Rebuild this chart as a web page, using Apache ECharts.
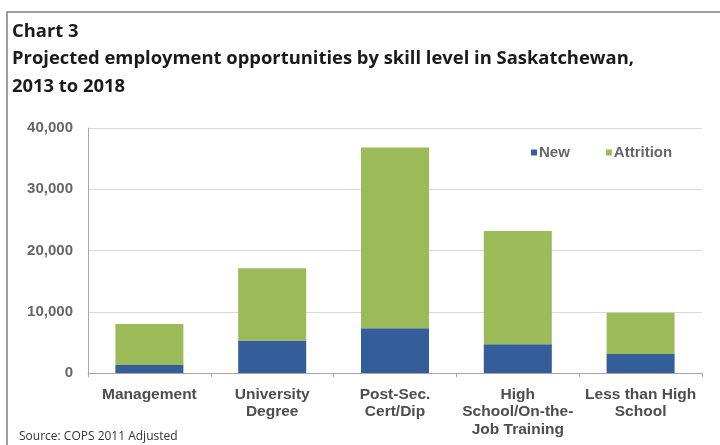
<!DOCTYPE html>
<html>
<head>
<meta charset="utf-8">
<script src="https://cdn.jsdelivr.net/npm/echarts@6/dist/echarts.min.js"></script>
<style>
html,body{margin:0;padding:0;background:#fff;}
#c{width:720px;height:445px;}
</style>
</head>
<body>
<div id="c"></div>
<script>
var categories = ["Management", "University\nDegree", "Post-Sec.\nCert/Dip", "High\nSchool/On-the-\nJob Training", "Less than High\nSchool"];
var newValues = [1300, 5300, 7300, 4700, 3100];
var attritionValues = [6700, 11800, 29500, 18500, 6750];
var yTicks = [0, 10000, 20000, 30000, 40000];

var chart = echarts.init(document.getElementById('c'), null, {renderer: 'canvas'});
var option = {
  animation: false,
  backgroundColor: '#ffffff',
  title: [{
    text: 'Chart 3\nProjected employment opportunities by skill level in Saskatchewan,\n2013 to 2018',
    left: 7, top: 13,
    textStyle: {fontFamily: 'Open Sans', fontWeight: 'bold', fontSize: 18.4, color: '#1a1a1a', lineHeight: 27.5}
  }, {
    text: 'Source: COPS 2011 Adjusted',
    left: 14, top: 426,
    textStyle: {fontFamily: 'Open Sans', fontWeight: 'normal', fontSize: 12, color: '#333333'}
  }],
  graphic: [{
    type: 'rect', silent: true,
    shape: {x: 7, y: 12, width: 800, height: 500},
    style: {fill: 'none', stroke: '#7f7f7f', lineWidth: 1.5}
  }],
  legend: {
    data: ['New', 'Attrition'],
    left: 526, top: 140,
    itemWidth: 6, itemHeight: 6, itemGap: 36,
    icon: 'rect',
    textStyle: {fontFamily: 'Liberation Sans', fontWeight: 'bold', fontSize: 15, color: '#666666', padding: [0, 0, 0, -3]}
  },
  grid: {left: 88, right: 18, top: 128, bottom: 72},
  xAxis: {
    type: 'category',
    data: categories,
    axisLine: {show: true, lineStyle: {color: '#a6a6a6', width: 1}},
    axisTick: {show: true, length: 4, lineStyle: {color: '#a6a6a6'}},
    axisLabel: {
      interval: 0, margin: 12.5,
      fontFamily: 'Liberation Sans', fontWeight: 'bold', fontSize: 15.5, color: '#4d4d4d', lineHeight: 17.5
    }
  },
  yAxis: {
    type: 'value',
    min: 0, max: 40000, interval: 10000,
    axisLine: {show: true, lineStyle: {color: '#a6a6a6', width: 1}},
    axisTick: {show: false},
    splitLine: {lineStyle: {color: '#d9d9d9', width: 1}},
    axisLabel: {
      margin: 15,
      fontFamily: 'Liberation Sans', fontWeight: 'bold', fontSize: 15, color: '#666666',
      formatter: function (v) { return yTicks.indexOf(v) >= 0 ? v.toLocaleString('en-US') : ''; }
    }
  },
  series: [{
    name: 'New', type: 'bar', stack: 'total',
    data: newValues, barWidth: 68,
    itemStyle: {color: '#335e99'}
  }, {
    name: 'Attrition', type: 'bar', stack: 'total',
    data: attritionValues, barWidth: 68,
    itemStyle: {color: '#9bbb59'}
  }]
};
chart.setOption(option);
</script>
</body>
</html>
